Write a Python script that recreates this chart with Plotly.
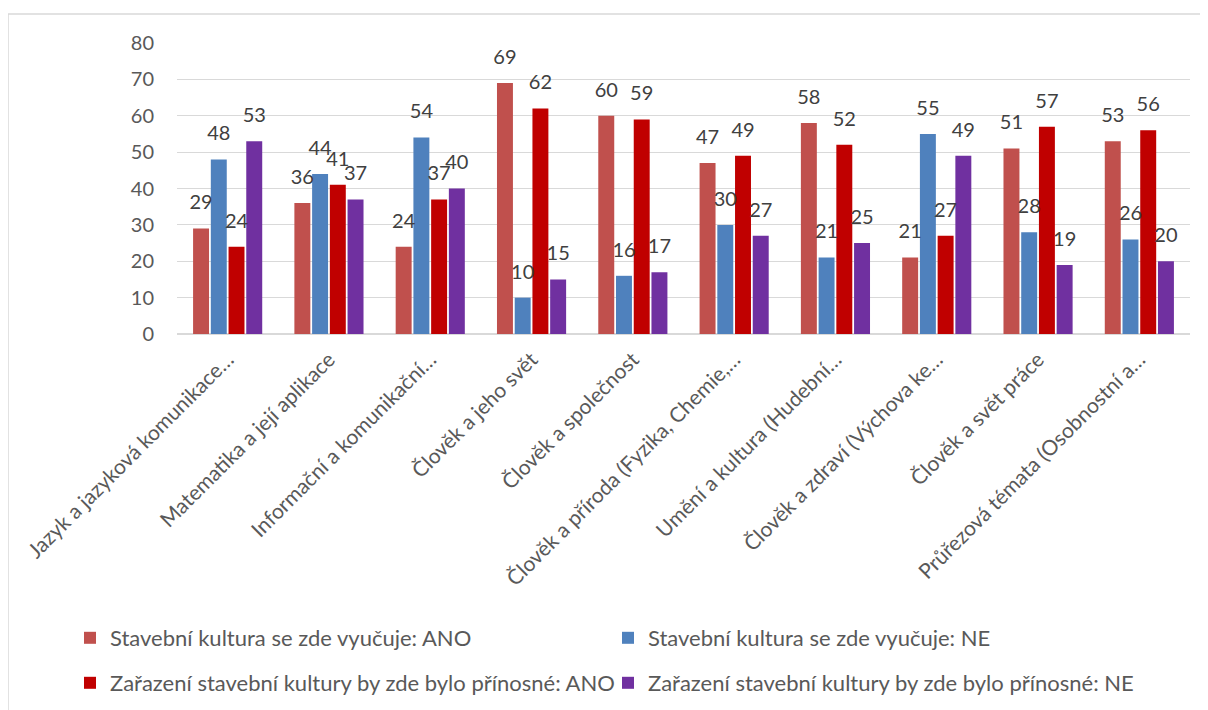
import plotly.graph_objects as go

categories = [
    "Jazyk a jazyková komunikace…",
    "Matematika a její aplikace",
    "Informační a komunikační…",
    "Člověk a jeho svět",
    "Člověk a společnost",
    "Člověk a příroda (Fyzika, Chemie,…",
    "Umění a kultura (Hudební…",
    "Člověk a zdraví (Výchova ke…",
    "Člověk a svět práce",
    "Průřezová témata (Osobnostní a…",
]
series_names = [
    "Stavební kultura se zde vyučuje: ANO",
    "Stavební kultura se zde vyučuje: NE",
    "Zařazení stavební kultury by zde bylo přínosné: ANO",
    "Zařazení stavební kultury by zde bylo přínosné: NE",
]
vyucuje_ano = [29, 36, 24, 69, 60, 47, 58, 21, 51, 53]
vyucuje_ne = [48, 44, 54, 10, 16, 30, 21, 55, 28, 26]
prinosne_ano = [24, 41, 37, 62, 59, 49, 52, 27, 57, 56]
prinosne_ne = [53, 37, 40, 15, 17, 27, 25, 49, 19, 20]
y_ticks = [0, 10, 20, 30, 40, 50, 60, 70, 80]

colors = ["#C0504D", "#4F81BD", "#C00000", "#7030A0"]
series_values = [vyucuje_ano, vyucuje_ne, prinosne_ano, prinosne_ne]

# the page body adds an 8px offset; the figure covers the rest of the window
OFF = 8
W, H = 1208 - OFF, 710 - OFF
ML = 177 - OFF
MT = 43 - OFF
MR = 1208 - 1190
MB = 710 - 334
FONT = "Lato, Calibri, sans-serif"

# legend placement (page pixels): item left x, row centre y
legend_pos = [(70, 638), (608, 638), (70, 683), (608, 683)]
legend_ids = ["legend", "legend2", "legend3", "legend4"]

fig = go.Figure()
for name, vals, col, lg in zip(series_names, series_values, colors, legend_ids):
    fig.add_trace(go.Bar(
        x=categories, y=vals, name=name, marker=dict(color=col, line=dict(width=0)),
        legend=lg, hoverinfo="x+y",
    ))
for name, vals in zip(series_names, series_values):
    fig.add_trace(go.Scatter(
        x=categories, y=vals, mode="markers+text", text=[str(v) for v in vals],
        textposition="top center",
        textfont=dict(family=FONT, size=20, color="#404040"),
        marker=dict(size=21, opacity=0), showlegend=False, hoverinfo="skip",
        cliponaxis=False,
    ))

pw = W - ML - MR
ph = H - MT - MB
def px_x(v):
    return (v - OFF - ML) / pw
def px_y(v):
    return (H - MB - (v - OFF)) / ph

legends = {}
for lg, (lx, ly) in zip(legend_ids, legend_pos):
    legends[lg] = dict(
        orientation="v", xref="container", yref="container",
        x=(lx - OFF) / W, y=1 - (ly - OFF) / H, xanchor="left", yanchor="middle",
        font=dict(family=FONT, size=22, color="#595959"),
        bgcolor="rgba(0,0,0,0)", borderwidth=0,
    )

fig.update_layout(
    width=W, height=H,
    margin=dict(l=ML, r=MR, t=MT, b=MB, pad=0, autoexpand=False),
    paper_bgcolor="white", plot_bgcolor="white",
    barmode="group", bargap=0.3, bargroupgap=0.1,
    scattermode="group", scattergap=0.3,
    font=dict(family=FONT, color="#595959", size=20),
    xaxis=dict(
        tickangle=-45, tickfont=dict(size=21, color="#595959"),
        showgrid=False, showline=True, linecolor="#D9D9D9", linewidth=1,
        ticks="", ticklabelstandoff=4, automargin=False,
    ),
    yaxis=dict(
        range=[0, 80], tickvals=y_ticks, showgrid=True, gridcolor="#D9D9D9",
        gridwidth=1, zeroline=True, zerolinecolor="#D9D9D9", ticks="",
        tickfont=dict(size=20, color="#595959"), ticklabelstandoff=22,
        automargin=False,
    ),
    shapes=[
        dict(type="line", xref="paper", yref="paper",
             x0=px_x(8), x1=px_x(1215), y0=px_y(14), y1=px_y(14),
             line=dict(color="#D9D9D9", width=1.5)),
        dict(type="line", xref="paper", yref="paper",
             x0=px_x(8), x1=px_x(8), y0=px_y(14), y1=px_y(720),
             line=dict(color="#D9D9D9", width=1.5)),
    ],
    **legends,
)

fig.write_html("out.html")
